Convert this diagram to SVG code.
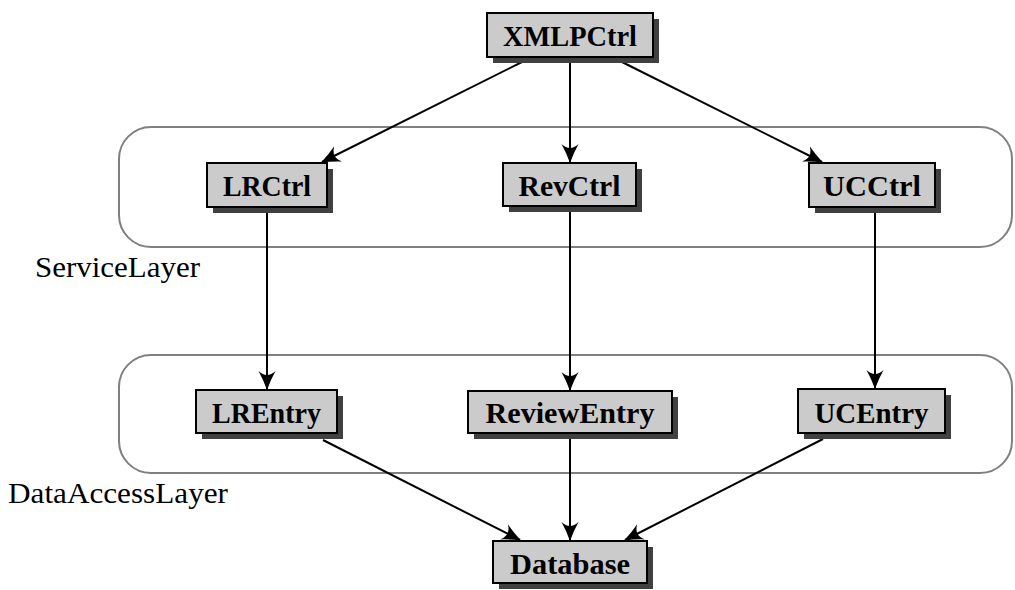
<svg xmlns="http://www.w3.org/2000/svg" width="1015" height="590" viewBox="0 0 1015 590">
<defs>
<style>
.layer{fill:none;stroke:#808080;stroke-width:2}
.shadow{fill:#404040}
.box{fill:#cbcbcb;stroke:#000;stroke-width:2}
.lbl{font-family:"Liberation Serif",serif;font-weight:bold;font-size:30px;fill:#000;text-anchor:middle}
.ltxt{font-family:"Liberation Serif",serif;font-size:30px;fill:#000}
.edge{fill:none;stroke:#000;stroke-width:2;marker-end:url(#ah)}
</style>
<marker id="ah" markerUnits="userSpaceOnUse" markerWidth="19" markerHeight="18" viewBox="0 0 19 18" refX="18" refY="9" orient="auto">
<path d="M19,9 Q8,5 0,0.5 Q8,9 0,17.5 Q8,13 19,9 Z" fill="#000"/>
</marker>
</defs>
<rect width="1015" height="590" fill="#fff"/>
<g id="ServiceLayer">
<rect class="layer" x="119" y="127" width="893" height="120" rx="32" ry="32"/>
<text class="ltxt" x="35" y="277" textLength="165" lengthAdjust="spacingAndGlyphs">ServiceLayer</text>
</g>
<g id="DataAccessLayer">
<rect class="layer" x="119" y="355" width="893" height="118" rx="32" ry="32"/>
<text class="ltxt" x="8" y="503" textLength="220" lengthAdjust="spacingAndGlyphs">DataAccessLayer</text>
</g>
<g id="connectors">
<line class="edge" x1="522" y1="62" x2="322" y2="162"/>
<line class="edge" x1="570" y1="62" x2="570" y2="162"/>
<line class="edge" x1="622" y1="62" x2="822" y2="162"/>
<line class="edge" x1="267" y1="212" x2="267" y2="389"/>
<line class="edge" x1="570" y1="211" x2="570" y2="390"/>
<line class="edge" x1="875" y1="212" x2="875" y2="388"/>
<line class="edge" x1="323" y1="440" x2="520" y2="540"/>
<line class="edge" x1="570" y1="439" x2="570" y2="540"/>
<line class="edge" x1="823" y1="439" x2="625" y2="540"/>
</g>
<g id="XMLPCtrl">
<rect class="shadow" x="493" y="19" width="166" height="44"/>
<rect class="box" x="487" y="13" width="166" height="44"/>
<text class="lbl" x="570" y="46" textLength="134" lengthAdjust="spacingAndGlyphs">XMLPCtrl</text>
</g>
<g id="LRCtrl">
<rect class="shadow" x="213" y="169" width="120" height="44"/>
<rect class="box" x="207" y="163" width="120" height="44"/>
<text class="lbl" x="267" y="196" textLength="88" lengthAdjust="spacingAndGlyphs">LRCtrl</text>
</g>
<g id="RevCtrl">
<rect class="shadow" x="509" y="169" width="133" height="43"/>
<rect class="box" x="503" y="163" width="133" height="43"/>
<text class="lbl" x="569.5" y="196" textLength="102" lengthAdjust="spacingAndGlyphs">RevCtrl</text>
</g>
<g id="UCCtrl">
<rect class="shadow" x="815" y="169" width="126" height="44"/>
<rect class="box" x="809" y="163" width="126" height="44"/>
<text class="lbl" x="872" y="196" textLength="98" lengthAdjust="spacingAndGlyphs">UCCtrl</text>
</g>
<g id="LREntry">
<rect class="shadow" x="202" y="396" width="141" height="43"/>
<rect class="box" x="196" y="390" width="141" height="43"/>
<text class="lbl" x="266.5" y="423" textLength="109" lengthAdjust="spacingAndGlyphs">LREntry</text>
</g>
<g id="ReviewEntry">
<rect class="shadow" x="474" y="397" width="204" height="42"/>
<rect class="box" x="468" y="391" width="204" height="42"/>
<text class="lbl" x="570" y="423" textLength="169" lengthAdjust="spacingAndGlyphs">ReviewEntry</text>
</g>
<g id="UCEntry">
<rect class="shadow" x="804" y="395" width="147" height="44"/>
<rect class="box" x="798" y="389" width="147" height="44"/>
<text class="lbl" x="871.5" y="423" textLength="114" lengthAdjust="spacingAndGlyphs">UCEntry</text>
</g>
<g id="Database">
<rect class="shadow" x="499" y="547" width="154" height="42"/>
<rect class="box" x="493" y="541" width="154" height="42"/>
<text class="lbl" x="570" y="574" textLength="120" lengthAdjust="spacingAndGlyphs">Database</text>
</g>
</svg>
